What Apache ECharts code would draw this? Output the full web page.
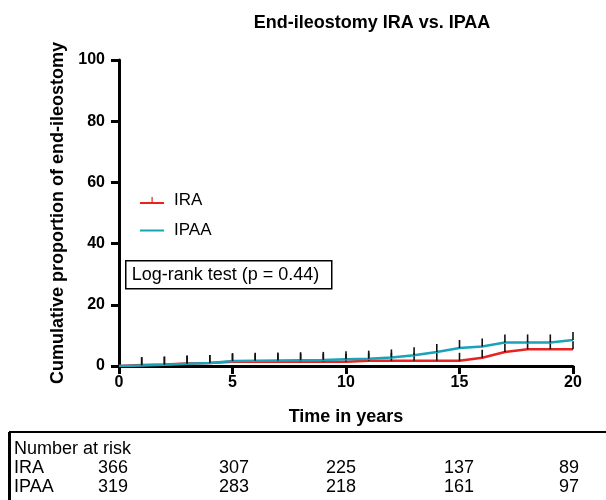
<!DOCTYPE html>
<html>
<head>
<meta charset="utf-8">
<script src="https://cdn.jsdelivr.net/npm/echarts@6/dist/echarts.min.js"></script>
<style>
  html, body { margin: 0; padding: 0; background: #fff; }
  #chart { width: 606px; height: 500px; }
</style>
</head>
<body>
<div id="chart"></div>
<script>
// time points (years)
const years = [0, 1, 2, 3, 4, 5, 6, 7, 8, 9, 10, 11, 12, 13, 14, 15, 16, 17, 18, 19, 20];
// cumulative proportion (%)
const iraValues = [0, 0.3, 0.5, 0.8, 1.0, 1.4, 1.4, 1.4, 1.4, 1.4, 1.4, 1.7, 1.7, 1.7, 1.7, 1.7, 2.7, 4.6, 5.5, 5.5, 5.5];
const ipaaValues = [0, 0.2, 0.4, 0.7, 1.0, 1.6, 1.7, 1.8, 1.9, 2.0, 2.2, 2.4, 2.8, 3.5, 4.6, 5.9, 6.4, 7.7, 7.7, 7.7, 8.5];
// number at risk table
const riskRows = ["IRA", "IPAA"];
const iraRisk = [366, 307, 225, 137, 89];
const ipaaRisk = [319, 283, 218, 161, 97];

const font = "Arial, 'Liberation Sans', sans-serif";
const red = "#e8221e";
const teal = "#1aa3b8";
const chart = echarts.init(document.getElementById("chart"));

function toData(vals) {
  return vals.map((v, i) => {
    const item = { value: [years[i], v] };
    if (i === 0) item.symbol = "none";
    return item;
  });
}

// censor ticks drawn as small vertical bars above each point
const censor = {
  symbol: "rect",
  symbolSize: [1.6, 8],
  symbolOffset: [0, -4],
  itemStyle: { color: "#111" },
};

const riskCols = [113, 234, 341, 459, 569];
const riskText = [];
[iraRisk, ipaaRisk].forEach((row, r) => {
  const y = 468 + r * 19;
  riskText.push({
    type: "text", x: 14, y: y,
    style: { text: riskRows[r], font: "18px " + font, fill: "#000", textVerticalAlign: "middle" },
  });
  row.forEach((n, c) => {
    riskText.push({
      type: "text", x: riskCols[c], y: y,
      style: { text: String(n), font: "18px " + font, fill: "#000",
        textAlign: "center", textVerticalAlign: "middle" },
    });
  });
});

const option = {
  animation: false,
  title: {
    text: "End-ileostomy IRA vs. IPAA",
    left: 367, top: 9, textAlign: "center",
    textStyle: { fontFamily: font, fontSize: 18, fontWeight: "bold", color: "#000" },
  },
  legend: {
    orient: "vertical",
    left: 135, top: 187,
    itemGap: 13,
    itemWidth: 24, itemHeight: 7,
    textStyle: { fontFamily: font, fontSize: 17, color: "#000", lineHeight: 17, padding: [0, 0, 0, 5] },
    data: [
      { name: "IRA", icon: "path://M0,5 L11.5,5 L11.5,0 L12.7,0 L12.7,5 L24,5 L24,7 L0,7 Z",
        itemStyle: { color: red } },
      { name: "IPAA", icon: "path://M0,5 L24,5 L24,7 L0,7 Z",
        itemStyle: { color: teal } },
    ],
  },
  grid: { left: 119, right: 33, top: 60, bottom: 134 },
  xAxis: {
    type: "value", min: 0, max: 20, interval: 5,
    name: "Time in years", nameLocation: "middle", nameGap: 42,
    nameTextStyle: { fontFamily: font, fontSize: 18, fontWeight: "bold", color: "#000" },
    axisLine: { lineStyle: { color: "#000", width: 3 } },
    axisTick: { length: 8, lineStyle: { color: "#000", width: 3 } },
    axisLabel: { fontFamily: font, fontSize: 16, fontWeight: "bold", color: "#000", margin: 9 },
    splitLine: { show: false },
  },
  yAxis: {
    type: "value", min: 0, max: 100, interval: 20,
    name: "Cumulative proportion of end-ileostomy", nameLocation: "middle", nameGap: 49,
    nameTextStyle: { fontFamily: font, fontSize: 18, fontWeight: "bold", color: "#000" },
    axisLine: { show: true, lineStyle: { color: "#000", width: 3 } },
    axisTick: { show: true, length: 8, lineStyle: { color: "#000", width: 3 } },
    axisLabel: { fontFamily: font, fontSize: 16, fontWeight: "bold", color: "#000", margin: 14 },
    splitLine: { show: false },
  },
  series: [
    Object.assign({
      name: "IPAA", type: "line", color: teal,
      lineStyle: { color: teal, width: 2.5 },
      data: toData(ipaaValues), z: 3,
    }, censor),
    Object.assign({
      name: "IRA", type: "line", color: red,
      lineStyle: { color: red, width: 2.5 },
      data: toData(iraValues), z: 2,
    }, censor),
  ],
  graphic: [
    {
      type: "group", left: 125, top: 260,
      children: [
        { type: "rect", shape: { x: 0, y: 0, width: 206, height: 28 },
          style: { fill: "#fff", stroke: "#000", lineWidth: 1.5 } },
        { type: "text", x: 6, y: 14,
          style: { text: "Log-rank test (p = 0.44)", font: "18px " + font, fill: "#000",
            textVerticalAlign: "middle" } },
      ],
    },
    { type: "rect", shape: { x: 10, y: 432, width: 620, height: 80 },
      style: { fill: "none", stroke: "#000", lineWidth: 2 } },
    { type: "rect", shape: { x: 8, y: 432, width: 3, height: 70 },
      style: { fill: "#000" } },
    { type: "text", x: 14, y: 449,
      style: { text: "Number at risk", font: "18px " + font, fill: "#000", textVerticalAlign: "middle" } },
  ].concat(riskText),
};

chart.setOption(option);
</script>
</body>
</html>
